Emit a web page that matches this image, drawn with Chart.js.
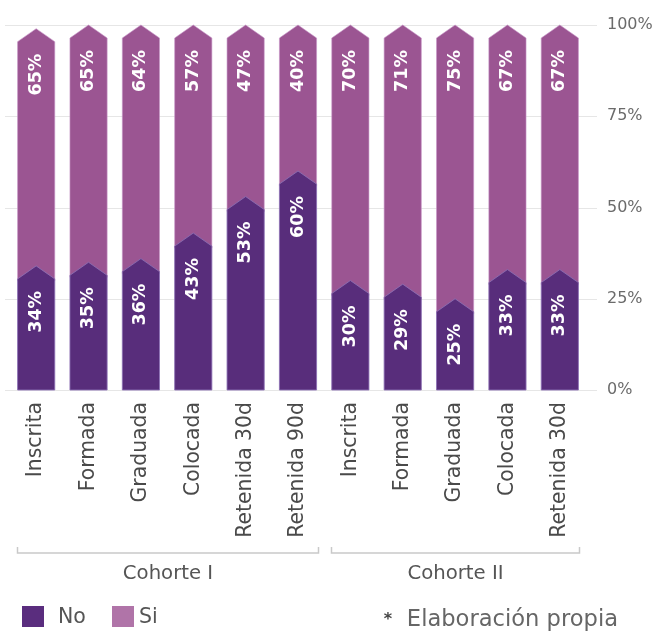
<!DOCTYPE html>
<html>
<head>
<meta charset="utf-8">
<script src="https://cdn.jsdelivr.net/npm/chart.js@4.4.1/dist/chart.umd.min.js"></script>
<style>
  html, body { margin: 0; padding: 0; background: #fff; }
  #wrap { position: relative; width: 663px; height: 631px; }
</style>
</head>
<body>
<div id="wrap"><canvas id="chart"></canvas></div>
<script>
const stages = ['Inscrita', 'Formada', 'Graduada', 'Colocada', 'Retenida 30d', 'Retenida 90d',
                'Inscrita', 'Formada', 'Graduada', 'Colocada', 'Retenida 30d'];
const noValues = [34, 35, 36, 43, 53, 60, 30, 29, 25, 33, 33];
const siValues = [65, 65, 64, 57, 47, 40, 70, 71, 75, 67, 67];
const cohorts = ['Cohorte I', 'Cohorte II'];
const cohortFirst = [0, 6];
const cohortLast = [5, 10];
const yTicks = [0, 25, 50, 75, 100];
const footnote = 'Elaboración propia';

const NO_COLOR = '#582d7b';
const SI_COLOR = '#9b5592';
const FONT = 'DejaVu Sans';
const TIP = 13; // height of the arrow point on top of each segment

// bars are drawn as arrows pointing up; "Si" runs down under the point of "No"
const arrowBars = {
    id: 'arrowBars',
    beforeDatasetDraw(chart, args) {
        const ctx = chart.ctx;
        const ds = chart.data.datasets[args.index];
        ctx.save();
        args.meta.data.forEach(bar => {
            const { x, y, base, width } = bar.getProps(['x', 'y', 'base', 'width'], true);
            const half = width / 2;
            const bottom = args.index === 1 ? base + TIP + 2 : base;
            ctx.beginPath();
            ctx.moveTo(x - half, bottom);
            ctx.lineTo(x - half, y + TIP);
            ctx.lineTo(x, y);
            ctx.lineTo(x + half, y + TIP);
            ctx.lineTo(x + half, bottom);
            ctx.closePath();
            ctx.fillStyle = ds.backgroundColor;
            ctx.fill();
            ctx.lineWidth = 1;
            ctx.strokeStyle = ds.borderColor;
            ctx.stroke();
        });
        ctx.restore();
        return false;
    }
};

// white percentages written upward just under each arrow point
const valueLabels = {
    id: 'valueLabels',
    afterDatasetsDraw(chart) {
        const ctx = chart.ctx;
        ctx.save();
        ctx.fillStyle = '#ffffff';
        ctx.font = 'bold 17.5px "' + FONT + '"';
        ctx.textAlign = 'right';
        ctx.textBaseline = 'middle';
        chart.data.datasets.forEach((ds, di) => {
            chart.getDatasetMeta(di).data.forEach((bar, i) => {
                ctx.save();
                ctx.translate(bar.x, bar.y + 25);
                ctx.rotate(-Math.PI / 2);
                ctx.fillText(ds.data[i] + '%', 0, 0);
                ctx.restore();
            });
        });
        ctx.restore();
    }
};

// light grid lines that run a little past both sides of the plot
const gridLines = {
    id: 'gridLines',
    beforeDatasetsDraw(chart) {
        const ctx = chart.ctx;
        const area = chart.chartArea;
        const ys = chart.scales.y;
        ctx.save();
        ctx.strokeStyle = '#e6e6e6';
        ctx.lineWidth = 1;
        yTicks.forEach(v => {
            const py = Math.round(ys.getPixelForValue(v)) + 0.5;
            ctx.beginPath();
            ctx.moveTo(area.left - 5, py);
            ctx.lineTo(area.right + 11, py);
            ctx.stroke();
        });
        ctx.restore();
    }
};

// cohort brackets, legend and footnote under the axis
const bottomNotes = {
    id: 'bottomNotes',
    afterDraw(chart) {
        const ctx = chart.ctx;
        const xs = chart.scales.x;
        const half = chart.getDatasetMeta(0).data[0].width / 2;
        ctx.save();
        cohorts.forEach((name, k) => {
            const left = Math.round(xs.getPixelForValue(cohortFirst[k]) - half - 1) + 0.5;
            const right = Math.round(xs.getPixelForValue(cohortLast[k]) + half + 1) + 0.5;
            ctx.strokeStyle = '#c9c9c9';
            ctx.lineWidth = 1.5;
            ctx.beginPath();
            ctx.moveTo(left, 547);
            ctx.lineTo(left, 553);
            ctx.lineTo(right, 553);
            ctx.lineTo(right, 547);
            ctx.stroke();
            ctx.fillStyle = '#555555';
            ctx.font = '19.7px "' + FONT + '"';
            ctx.textAlign = 'center';
            ctx.textBaseline = 'middle';
            ctx.fillText(name, (left + right) / 2, 574);
        });

        // legend
        const swatches = [{ x: 22, color: '#5a2d7e', tx: 58 }, { x: 112, color: '#b074a8', tx: 139 }];
        chart.data.datasets.forEach((ds, di) => {
            const s = swatches[di];
            ctx.fillStyle = s.color;
            ctx.fillRect(s.x, 606, 22, 21);
            ctx.fillStyle = '#555555';
            ctx.font = '20.5px "' + FONT + '"';
            ctx.textAlign = 'left';
            ctx.textBaseline = 'middle';
            ctx.fillText(ds.label, s.tx, 618);
        });

        ctx.fillStyle = '#444444';
        ctx.font = 'bold 16px "' + FONT + '"';
        ctx.textAlign = 'center';
        ctx.fillText('*', 388, 620);
        ctx.fillStyle = '#666666';
        ctx.font = '22.6px "' + FONT + '"';
        ctx.textAlign = 'right';
        ctx.fillText(footnote, 618, 620);
        ctx.restore();
    }
};

new Chart(document.getElementById('chart'), {
    type: 'bar',
    data: {
        labels: stages,
        datasets: [
            { label: 'No', data: noValues, backgroundColor: NO_COLOR, borderColor: 'rgba(140,112,180,0.85)' },
            { label: 'Si', data: siValues, backgroundColor: SI_COLOR, borderColor: 'rgba(200,150,200,0.6)' }
        ]
    },
    options: {
        responsive: true,
        maintainAspectRatio: false,
        animation: false,
        layout: { padding: { left: 10, top: 25, right: 0, bottom: 0 } },
        datasets: { bar: { categoryPercentage: 1, barPercentage: 0.71 } },
        plugins: {
            legend: { display: false },
            tooltip: { enabled: false }
        },
        scales: {
            x: {
                stacked: true,
                grid: { display: false, drawTicks: false },
                border: { display: false },
                ticks: {
                    autoSkip: false,
                    minRotation: 90,
                    maxRotation: 90,
                    padding: 12,
                    color: '#4a4a4a',
                    font: { family: FONT, size: 20.4 }
                },
                afterFit(scale) { scale.height = 241; }
            },
            y: {
                stacked: true,
                position: 'right',
                min: 0,
                max: 100,
                grid: { display: false, drawTicks: false },
                border: { display: false },
                afterBuildTicks(scale) { scale.ticks = yTicks.map(v => ({ value: v })); },
                ticks: {
                    padding: 21,
                    color: '#6b6b6b',
                    font: { family: FONT, size: 16 },
                    callback: v => v + '%'
                },
                afterFit(scale) {
                    scale.width = 77;
                    scale.paddingTop = 0;
                    scale.paddingBottom = 0;
                }
            }
        }
    },
    plugins: [gridLines, arrowBars, valueLabels, bottomNotes]
});
</script>
</body>
</html>
